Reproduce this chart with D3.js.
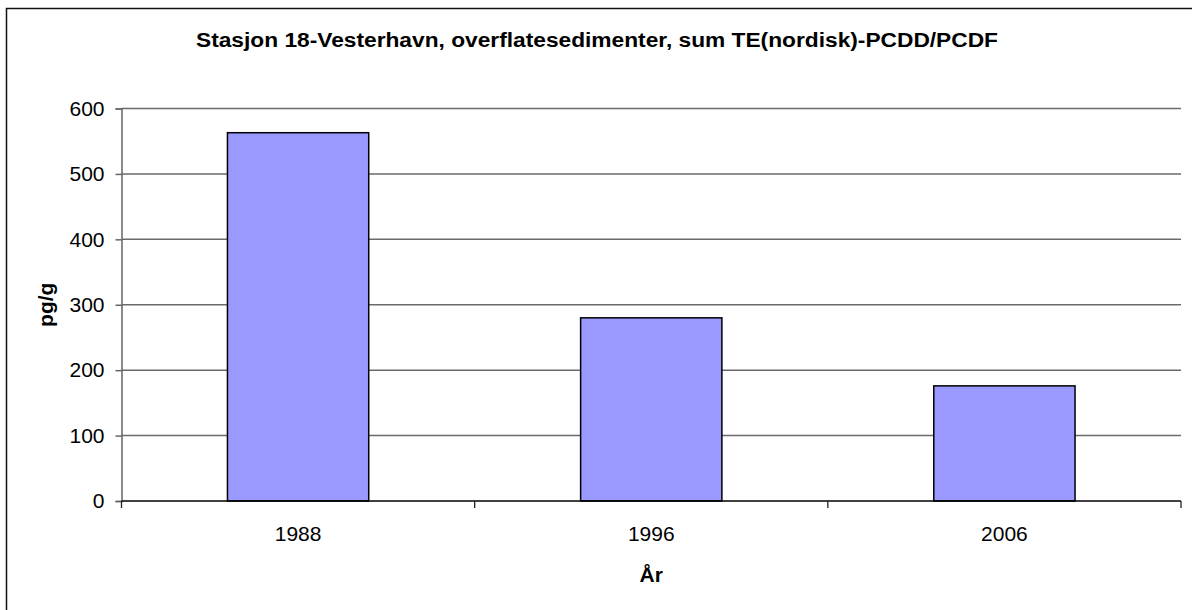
<!DOCTYPE html>
<html lang="no">

<head>
  <meta charset="UTF-8" />
  <title>Stasjon 18-Vesterhavn</title>
  <script src="https://d3js.org/d3.v7.min.js"></script>
  <style>
    body {
      margin: 0;
      background: #fff;
      font-family: "Liberation Sans", Arial, sans-serif;
    }

    svg {
      display: block;
    }
  </style>
</head>

<body>
  <div id="chart"></div>
  <script>
    const years = ["1988", "1996", "2006"];
    const values = [563, 280, 176];
    const yTicks = [0, 100, 200, 300, 400, 500, 600];

    const W = 1192;
    const H = 610;
    const margin = { top: 108.5, right: 11, bottom: 109, left: 121.5 };
    const width = W - margin.left - margin.right;
    const height = H - margin.top - margin.bottom;

    const svg = d3.select("#chart").append("svg")
      .attr("width", W)
      .attr("height", H);

    // ramme rundt diagrammet
    svg.append("rect")
      .attr("x", 6.5).attr("y", 8.5)
      .attr("width", W + 20).attr("height", H + 20)
      .attr("fill", "none")
      .attr("stroke", "#111")
      .attr("stroke-width", 1.5);

    const g = svg.append("g")
      .attr("transform", `translate(${margin.left},${margin.top})`);

    const x = d3.scaleBand()
      .domain(years)
      .range([0, width])
      .paddingInner(0.6)
      .paddingOuter(0.3);

    const y = d3.scaleLinear()
      .domain([0, 600])
      .range([height, 0]);

    // rutenett
    g.append("g")
      .selectAll("line")
      .data(yTicks.filter(d => d > 0))
      .join("line")
      .attr("x1", 0).attr("x2", width)
      .attr("y1", d => y(d))
      .attr("y2", d => y(d))
      .attr("stroke", "#6a6a6a")
      .attr("stroke-width", 1.5);

    // søyler
    g.append("g")
      .selectAll("rect")
      .data(values)
      .join("rect")
      .attr("x", (d, i) => x(years[i]))
      .attr("y", d => y(d))
      .attr("width", x.bandwidth())
      .attr("height", d => height - y(d))
      .attr("fill", "#9999ff")
      .attr("stroke", "#000")
      .attr("stroke-width", 1.5);

    // y-akse
    const yAxis = g.append("g")
      .call(d3.axisLeft(y).tickValues(yTicks).tickSize(6).tickPadding(11));
    yAxis.select(".domain").attr("stroke", "#666").attr("stroke-width", 1.5);
    yAxis.selectAll(".tick line").attr("stroke", "#666").attr("stroke-width", 1.5);
    yAxis.selectAll("text")
      .attr("font-family", "Liberation Sans, Arial, sans-serif")
      .attr("font-size", "21px")
      .attr("fill", "#000");

    // x-akse med skillestreker mellom kategoriene
    const xAxisG = g.append("g")
      .attr("transform", `translate(0,${height})`);
    xAxisG.append("line")
      .attr("x1", 0).attr("x2", width)
      .attr("y1", 0).attr("y2", 0)
      .attr("stroke", "#000").attr("stroke-width", 1.5);
    const step = x.step();
    xAxisG.selectAll(".sep")
      .data(d3.range(years.length + 1))
      .join("line")
      .attr("class", "sep")
      .attr("x1", i => i * step)
      .attr("x2", i => i * step)
      .attr("y1", 0).attr("y2", 7)
      .attr("stroke", "#222")
      .attr("stroke-width", 1.3);
    xAxisG.selectAll(".lbl")
      .data(years)
      .join("text")
      .attr("class", "lbl")
      .attr("x", d => x(d) + x.bandwidth() / 2)
      .attr("y", 40)
      .attr("text-anchor", "middle")
      .attr("font-size", "21px")
      .text(d => d);

    // titler
    svg.append("text")
      .attr("x", 597)
      .attr("y", 46.5)
      .attr("text-anchor", "middle")
      .attr("font-size", "20px")
      .attr("font-weight", "bold")
      .attr("textLength", 802)
      .attr("lengthAdjust", "spacingAndGlyphs")
      .text("Stasjon 18-Vesterhavn, overflatesedimenter, sum TE(nordisk)-PCDD/PCDF");

    svg.append("text")
      .attr("x", margin.left + width / 2)
      .attr("y", 581.5)
      .attr("text-anchor", "middle")
      .attr("font-size", "21px")
      .attr("font-weight", "bold")
      .text("År");

    svg.append("text")
      .attr("transform", `translate(53,${margin.top + height / 2}) rotate(-90)`)
      .attr("text-anchor", "middle")
      .attr("font-size", "21px")
      .attr("font-weight", "bold")
      .text("pg/g");
  </script>
</body>

</html>
